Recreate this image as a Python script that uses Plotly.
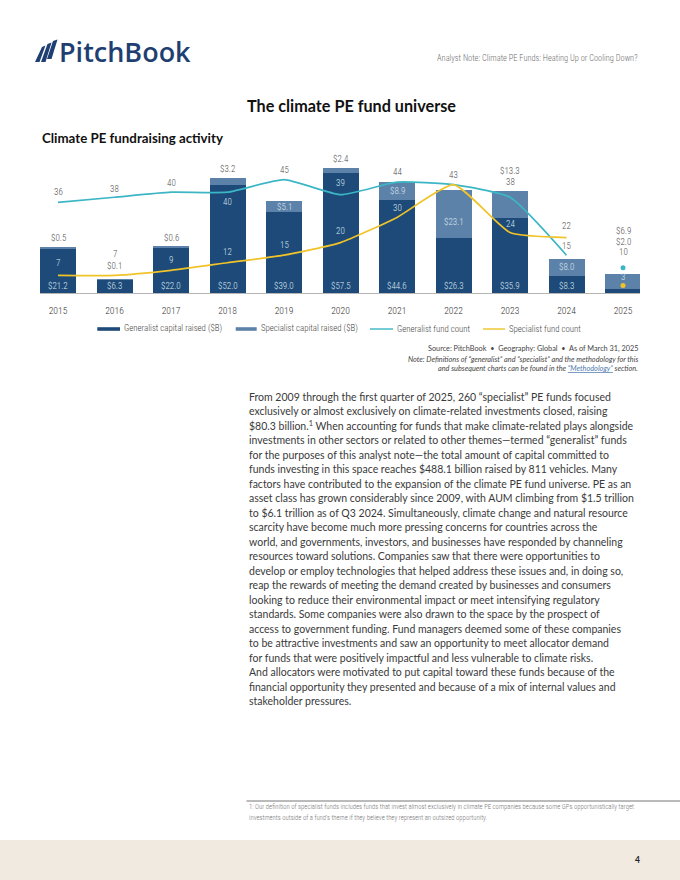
import plotly.graph_objects as go

# ---------------- data ----------------
years = [2015, 2016, 2017, 2018, 2019, 2020, 2021, 2022, 2023, 2024, 2025]
year_labels = [str(y) for y in years]
generalist_capital = [21.2, 6.3, 22.0, 52.0, 39.0, 57.5, 44.6, 26.3, 35.9, 8.3, 2.0]
specialist_capital = [0.5, 0.1, 0.6, 3.2, 5.1, 2.4, 8.9, 23.1, 13.3, 8.0, 6.9]
generalist_count = [36, 38, 40, 40, 45, 39, 44, 43, 38, 15, 10]
specialist_count = [7, 7, 9, 12, 15, 20, 30, 43, 24, 22, 3]

# label placement (pixel shifts; style only)
gen_cap_shift = [7, 7, 7, 7, 7, 7, 7, 7, 7, 7, 32]
gen_cap_base = ["zero"] * 10 + ["top"]
spec_cap_mode = ["top", "top", "top", "top", "mid", "top", "mid", "mid", "top", "mid", "top"]
spec_cap_shift = [9.6, 14, 8, 9.2, 0, 9, 0, -8, 20, 0, 43]
gen_cnt_shift = [10, 8.6, 9.3, -10, 9.3, 12, 10, 10, 15.6, 9, 15.5]
gen_cnt_inside = [False, False, False, True, False, True, False, False, False, False, False]
spec_cnt_shift = [12, 21.5, 10.7, 10.5, 10.6, 12, 9.5, None, 9, 11.3, 8.5]
spec_cnt_inside = [True, False, True, True, True, True, True, False, True, False, True]

# ---------------- style ----------------
W, H = 680, 880
NAVY = "#1d4a79"
LIGHT = "#5d82a9"
TEAL = "#3cb6c5"
YELLOW = "#f0c328"
IN_TXT = "#dbe4ee"
OUT_TXT = "#505050"
NARROW = "Roboto Condensed, DejaVu Sans Condensed, sans-serif"
BODY = "Lato, Open Sans, sans-serif"


def PX(x):
    return x / W


def PY(y):
    return 1 - y / H


fig = go.Figure()
fig.add_trace(go.Bar(x=years, y=generalist_capital, marker_color=NAVY, width=0.637,
                     marker_line_width=0, name="Generalist capital raised ($B)"))
fig.add_trace(go.Bar(x=years, y=specialist_capital, marker_color=LIGHT, width=0.637,
                     marker_line_width=0, name="Specialist capital raised ($B)"))
fig.add_trace(go.Scatter(x=years[:-1], y=generalist_count[:-1], yaxis="y2", mode="lines",
                         line=dict(color=TEAL, width=1.7, shape="spline", smoothing=0.5),
                         name="Generalist fund count"))
fig.add_trace(go.Scatter(x=years[:-1], y=specialist_count[:-1], yaxis="y2", mode="lines",
                         line=dict(color=YELLOW, width=1.7, shape="spline", smoothing=0.5),
                         name="Specialist fund count"))
fig.add_trace(go.Scatter(x=years[-1:], y=generalist_count[-1:], yaxis="y2", mode="markers",
                         marker=dict(color=TEAL, size=5), showlegend=False))
fig.add_trace(go.Scatter(x=years[-1:], y=specialist_count[-1:], yaxis="y2", mode="markers",
                         marker=dict(color=YELLOW, size=5), showlegend=False))

ann = []


def lab(x, y, text, shift, inside, yref="y"):
    ann.append(dict(x=x, y=y, xref="x", yref=yref, text=text, showarrow=False,
                    yshift=shift, xanchor="center", yanchor="middle",
                    font=dict(family=NARROW, size=9, weight=300,
                              color=IN_TXT if inside else OUT_TXT)))


for i, yr in enumerate(years):
    g, s = generalist_capital[i], specialist_capital[i]
    tot = g + s
    if gen_cap_base[i] == "zero":
        lab(yr, 0, f"${g:.1f}", gen_cap_shift[i], True)
    else:
        lab(yr, tot, f"${g:.1f}", gen_cap_shift[i], False)
    if spec_cap_mode[i] == "mid":
        lab(yr, g + s / 2, f"${s:.1f}", spec_cap_shift[i], True)
    else:
        lab(yr, tot, f"${s:.1f}", spec_cap_shift[i], False)
    lab(yr, generalist_count[i], str(generalist_count[i]), gen_cnt_shift[i], gen_cnt_inside[i], "y2")
    if spec_cnt_shift[i] is not None:
        lab(yr, specialist_count[i], str(specialist_count[i]), spec_cnt_shift[i], spec_cnt_inside[i], "y2")

shapes = []

# ---------------- custom legend ----------------
leg_y = 329
legend_items = [
    ("rect", NAVY, 97.3, 120, 122, "Generalist capital raised ($B)"),
    ("rect", LIGHT, 235.7, 256.7, 258.7, "Specialist capital raised ($B)"),
    ("line", TEAL, 370, 393, 395, "Generalist fund count"),
    ("line", YELLOW, 483, 505, 507, "Specialist fund count"),
]
for kind, col, x0, x1, tx, txt in legend_items:
    if kind == "rect":
        shapes.append(dict(type="rect", xref="paper", yref="paper", x0=PX(x0), x1=PX(x1),
                           y0=PY(leg_y + 1.8), y1=PY(leg_y - 1.8), fillcolor=col, line_width=0))
    else:
        shapes.append(dict(type="line", xref="paper", yref="paper", x0=PX(x0), x1=PX(x1),
                           y0=PY(leg_y), y1=PY(leg_y), line=dict(color=col, width=1.4)))
    ann.append(dict(x=PX(tx), y=PY(leg_y), xref="paper", yref="paper", text=txt, showarrow=False,
                    xanchor="left", yanchor="middle",
                    font=dict(family=NARROW, size=8.8, weight=300, color="#444444")))

# ---------------- page furniture ----------------
sails = [
    [(35, 62), (42, 47), (45.5, 45.5), (39.5, 62)],
    [(41, 62), (47.5, 44), (51.5, 42.5), (45.5, 62)],
    [(47, 59), (53, 41), (57.5, 39.5), (51.5, 59)],
]
for pts in sails:
    p = "M " + " L ".join(f"{PX(a):.5f},{PY(b):.5f}" for a, b in pts) + " Z"
    shapes.append(dict(type="path", xref="paper", yref="paper", path=p,
                       fillcolor="#1f3f73", line_width=0))
ann.append(dict(x=PX(57), y=PY(51.5), xref="paper", yref="paper", text="PitchBook",
                showarrow=False, xanchor="left", yanchor="middle",
                font=dict(family="Open Sans, sans-serif", size=27, color="#1f3f73", weight=600)))
ann.append(dict(x=PX(640), y=PY(58), xref="paper", yref="paper",
                text="Analyst Note: Climate PE Funds: Heating Up or Cooling Down?",
                showarrow=False, xanchor="right", yanchor="middle",
                font=dict(family=NARROW, size=8.4, weight=300, color="#6f6f6f")))
ann.append(dict(x=PX(351), y=PY(105), xref="paper", yref="paper",
                text="<b>The climate PE fund universe</b>", showarrow=False,
                xanchor="center", yanchor="middle",
                font=dict(family=BODY, size=16.2, color="#111111")))
ann.append(dict(x=PX(40), y=PY(138), xref="paper", yref="paper",
                text="<b>Climate PE fundraising activity</b>", showarrow=False,
                xanchor="left", yanchor="middle",
                font=dict(family=BODY, size=13.3, color="#111111")))

src_lines = [
    (348.3, "Source: PitchBook  •  Geography: Global  •  As of March 31, 2025"),
    (359, "<i>Note: Definitions of “generalist” and “specialist” and the methodology for this</i>"),
    (368.7, "<i>and subsequent charts can be found in the </i><span style='color:#4c78ae'><i><u>“Methodology”</u></i></span><i> section.</i>"),
]
for y, t in src_lines:
    ann.append(dict(x=PX(640), y=PY(y), xref="paper", yref="paper", text=t, showarrow=False,
                    xanchor="right", yanchor="middle",
                    font=dict(family=BODY, size=7.3, color="#444444")))

body_lines = [
    "From 2009 through the first quarter of 2025, 260 “specialist” PE funds focused",
    "exclusively or almost exclusively on climate-related investments closed, raising",
    "$80.3 billion.<sup>1</sup> When accounting for funds that make climate-related plays alongside",
    "investments in other sectors or related to other themes—termed “generalist” funds",
    "for the purposes of this analyst note—the total amount of capital committed to",
    "funds investing in this space reaches $488.1 billion raised by 811 vehicles. Many",
    "factors have contributed to the expansion of the climate PE fund universe. PE as an",
    "asset class has grown considerably since 2009, with AUM climbing from $1.5 trillion",
    "to $6.1 trillion as of Q3 2024. Simultaneously, climate change and natural resource",
    "scarcity have become much more pressing concerns for countries across the",
    "world, and governments, investors, and businesses have responded by channeling",
    "resources toward solutions. Companies saw that there were opportunities to",
    "develop or employ technologies that helped address these issues and, in doing so,",
    "reap the rewards of meeting the demand created by businesses and consumers",
    "looking to reduce their environmental impact or meet intensifying regulatory",
    "standards. Some companies were also drawn to the space by the prospect of",
    "access to government funding. Fund managers deemed some of these companies",
    "to be attractive investments and saw an opportunity to meet allocator demand",
    "for funds that were positively impactful and less vulnerable to climate risks.",
    "And allocators were motivated to put capital toward these funds because of the",
    "financial opportunity they presented and because of a mix of internal values and",
    "stakeholder pressures.",
]
for i, t in enumerate(body_lines):
    ann.append(dict(x=PX(246.5), y=PY(397 + i * 14.48), xref="paper", yref="paper", text=t,
                    showarrow=False, xanchor="left", yanchor="middle",
                    font=dict(family=BODY, size=10.5, color="#3a3a3a")))

shapes.append(dict(type="line", xref="paper", yref="paper", x0=PX(246.5), x1=PX(680),
                   y0=PY(801), y1=PY(801), line=dict(color="#777777", width=1)))
foot = [
    "1: Our definition of specialist funds includes funds that invest almost exclusively in climate PE companies because some GPs opportunistically target",
    "investments outside of a fund’s theme if they believe they represent an outsized opportunity.",
]
for i, t in enumerate(foot):
    ann.append(dict(x=PX(246.5), y=PY(807.3 + i * 10.4), xref="paper", yref="paper", text=t,
                    showarrow=False, xanchor="left", yanchor="middle",
                    font=dict(family=NARROW, size=6.7, weight=300, color="#7a7a7a")))

shapes.append(dict(type="rect", xref="paper", yref="paper", x0=0, x1=1, y0=0, y1=PY(840),
                   fillcolor="#f1eae1", line_width=0, layer="below"))
ann.append(dict(x=PX(637.5), y=PY(860), xref="paper", yref="paper", text="<b>4</b>",
                showarrow=False, xanchor="center", yanchor="middle",
                font=dict(family=BODY, size=8.5, color="#222222")))

x0 = 2014.681
x1 = x0 + 600 / 56.5
fig.update_layout(
    width=W, height=H, margin=dict(l=0, r=0, t=0, b=0),
    paper_bgcolor="white", plot_bgcolor="white",
    barmode="stack", bargap=0, showlegend=False,
    xaxis=dict(domain=[PX(40), PX(640)], range=[x0, x1], tickvals=years, ticktext=year_labels,
               showgrid=False, zeroline=False, showline=True, linecolor="#b5b5b5", linewidth=1,
               ticks="", ticklabelstandoff=8,
               tickfont=dict(family=NARROW, size=9.6, weight=300, color="#333333")),
    yaxis=dict(domain=[PY(293), PY(150)], range=[0, (293 - 150) / 2.08], visible=False,
               showgrid=False, zeroline=False),
    yaxis2=dict(domain=[PY(293), PY(150)], range=[0, (293 - 150) / 2.52], overlaying="y",
                visible=False, showgrid=False, zeroline=False, anchor="x"),
    annotations=ann, shapes=shapes,
)
fig.write_html("out.html", config={"displayModeBar": False},
               post_script="document.body.style.margin='0';")
